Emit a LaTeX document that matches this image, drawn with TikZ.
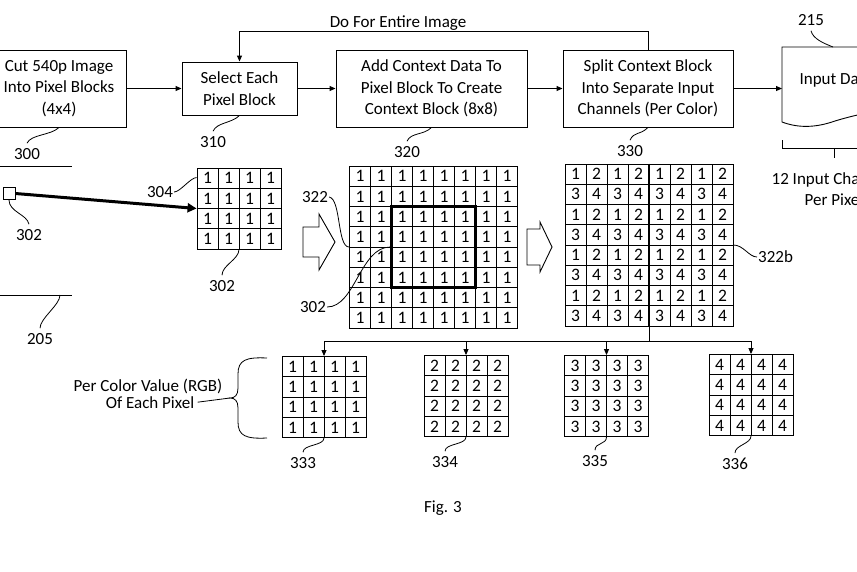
\documentclass[tikz,border=0pt]{standalone}
\usepackage{fontspec}
\setmainfont{Carlito}
\usetikzlibrary{arrows.meta,positioning}

% n x n block of pixel cells, #5 gives the value of cell (\r,\c)
\newcommand{\pixgrid}[5]{%
  \node[gridbox,minimum width=#4*21pt,minimum height=#4*20.25pt] (#1) at (#2,#3) {};
  \pgfmathsetmacro{\gx}{#2-#4*10.5}
  \pgfmathsetmacro{\gy}{#3-#4*10.125}
  \foreach \k in {1,...,#4} {
    \draw[gridline] (\gx+\k*21,\gy) -- ++(0,#4*20.25);
    \draw[gridline] (\gx,\gy+\k*20.25) -- ++(#4*21,0);
  }
  \foreach \r in {1,...,#4} {
    \foreach \c in {1,...,#4} {
      \pgfmathtruncatemacro{\v}{#5}
      \node[digit] (#1-\r-\c) at (\gx+\c*21-10.5,\gy+\r*20.25-10.125) {\v};
    }
  }
}

\begin{document}
\begin{tikzpicture}[x=1pt,y=-1pt,
    every node/.append style={font=\fontsize{17}{21.5}\selectfont},
    procbox/.style={draw,line width=0.9pt,align=center,inner sep=0pt},
    flow/.style={line width=0.9pt,-{Triangle[length=6pt,width=5pt]}},
    lead/.style={line width=0.8pt},
    reflabel/.style={inner xsep=1pt,inner ysep=5pt},
    gridbox/.style={draw,line width=0.9pt,inner sep=0pt},
    gridline/.style={line width=0.7pt},
    digit/.style={inner sep=0pt,font=\fontsize{17.5}{17.5}\selectfont}]
\clip (0,0) rectangle (857,571);

% process row
\node[procbox,minimum width=134pt,minimum height=77pt] (b300) at (59,88.5) {Cut 540p Image\\Into Pixel Blocks\\(4x4)};
\node[procbox,minimum width=115pt,minimum height=53pt] (b310) at (239.5,88.5) {Select Each\\Pixel Block};
\node[procbox,minimum width=191pt,minimum height=77pt] (b320) at (431.5,88.5) {Add Context Data To\\Pixel Block To Create\\Context Block (8x8)};
\node[procbox,minimum width=170pt,minimum height=77pt] (b330) at (648,88.5) {Split Context Block\\Into Separate Input\\Channels (Per Color)};
\draw[line width=0.9pt] (900,47) -- (782,47) -- (782,122)
  .. controls (798,128) and (815,128) .. (835,121)
  .. controls (845,118) and (852,116) .. (880,110);
\coordinate (d215) at (782,88.5);
\coordinate (d215top) at (833,47);
\node[anchor=west] (t215) at (796,80) {Input Data};

\draw[flow] (b300) -- (b310);
\draw[flow] (b310) -- (b320);
\draw[flow] (b320) -- (b330);
\draw[flow] (b330) -- (d215);
\draw[flow] (b330.north) -- ++(0,-18) -| (b310.north);
\node (loop) at (398,23) {Do For Entire Image};

\node[reflabel] (l300) at (27,154) {300};
\node[reflabel] (l310) at (213,142) {310};
\node[reflabel] (l320) at (407,152) {320};
\node[reflabel] (l330) at (630,151) {330};
\node[reflabel] (l215) at (811,20) {215};
\draw[lead] (l300.north) .. controls +(4,-9) and +(-8,8) .. (b300.south);
\draw[lead] (l310.north) .. controls +(4,-9) and +(-8,8) .. (b310.south);
\draw[lead] (l320.north) .. controls +(4,-9) and +(-8,8) .. (b320.south);
\draw[lead] (l330.north) .. controls +(4,-9) and +(-8,8) .. (b330.south);
\draw[lead] (l215.south) .. controls +(2,8) and +(-10,-4) .. (d215top);

% bracket under input data
\draw[lead] (782,140) -- (782,148) -- (890,148);
\draw[lead] (834,148) -- (834,158);
\node (ch12a) at (834,180) {12 Input Channels};
\node (ch12b) at (834,200) {Per Pixel};

% source image
\draw[lead] (0,166) -- (72,166);
\draw[lead] (0,295) -- (72,295);
\coordinate (e205) at (60,295);
\node[reflabel] (l205) at (40,339) {205};
\draw[lead] (l205.north) .. controls +(0,-10) and +(0,10) .. (e205);
\node[draw,line width=0.9pt,minimum size=12pt,inner sep=0pt] (sq302) at (9,193.5) {};
\node[reflabel] (l302a) at (29,235) {302};
\draw[lead] (sq302.south) .. controls +(0,12) and +(-2,-10) .. (l302a.north);

% pixel block and context blocks
\pixgrid{g302}{239}{208.5}{4}{1}
\draw[line width=3pt,-{Triangle[length=9pt,width=9pt]}] (sq302.east) -- (g302.west);
\node[reflabel] (l304) at (160,192) {304};
\draw[lead] (l304.east) .. controls +(6,0) and +(-6,0) .. ([yshift=-10pt]g302.north west);
\node[reflabel] (l302b) at (222,286) {302};
\draw[lead] (l302b.north) .. controls +(0,-10) and +(0,10) .. (g302.south);

\draw[line width=0.9pt] (303,227) -- (319,227) -- (319,214) -- (335,242) -- (319,270) -- (319,257) -- (303,257) -- cycle;
\pixgrid{g320}{433.5}{247}{8}{1}
\node[draw,line width=2.6pt,minimum width=84pt,minimum height=81pt,inner sep=0pt] (blk302) at (g320.center) {};
\node[reflabel] (l322) at (315,197) {322};
\draw[lead] (l322.east) .. controls +(12,2) and +(-12,0) .. (g320.west);
\node[reflabel] (l302c) at (313,307) {302};
\draw[lead] (l302c.east) .. controls +(28,0) and +(-30,0) .. (blk302.west);

\draw[line width=0.9pt] (527,229) -- (540,229) -- (540,222) -- (552,247) -- (540,272) -- (540,265) -- (527,265) -- cycle;
\pixgrid{g330}{649}{245}{8}{1+mod(\c+1,2)+2*mod(\r+1,2)}
\draw[line width=1.2pt] (g330.north) -- (g330.south);
\node[reflabel,anchor=west] (l322b) at (757,257) {322b};
\draw[lead] (g330.east) .. controls +(10,0) and +(-8,0) .. (l322b.west);

% split into color channels
\coordinate (bus) at (649,341);
\draw[line width=0.9pt] (g330.south) -- (bus);
\pixgrid{g333}{324}{397}{4}{1}
\pixgrid{g334}{466}{396}{4}{2}
\pixgrid{g335}{606.5}{396}{4}{3}
\pixgrid{g336}{751}{395}{4}{4}
\foreach \g in {g333,g334,g335,g336}
  \draw[flow] (bus) -| (\g.north);
\node[reflabel] (l333) at (303,463) {333};
\node[reflabel] (l334) at (445,462) {334};
\node[reflabel] (l335) at (595,461) {335};
\node[reflabel] (l336) at (735,464) {336};
\foreach \g/\l in {g333/l333,g334/l334,g335/l335,g336/l336}
  \draw[lead] (\l.north) .. controls +(0,-8) and +(0,8) .. (\g.south);

\node[anchor=base] (rgbA) at (148,391) {Per Color Value (RGB)};
\node[anchor=base] (rgbB) at (150,408) {Of Each Pixel};
\coordinate (tipRGB) at (230,398);
\draw[lead] (267,358) .. controls (246,357) and (238,360) .. (238,374) -- (238,388)
  .. controls (238,395) and (235,398) .. (tipRGB)
  .. controls (235,398) and (238,401) .. (238,408) -- (238,422)
  .. controls (238,436) and (246,439) .. (267,438);
\draw[lead] (rgbB.east) -- (tipRGB);

\node (fig) at (443,508) {Fig. 3};
\end{tikzpicture}
\end{document}
